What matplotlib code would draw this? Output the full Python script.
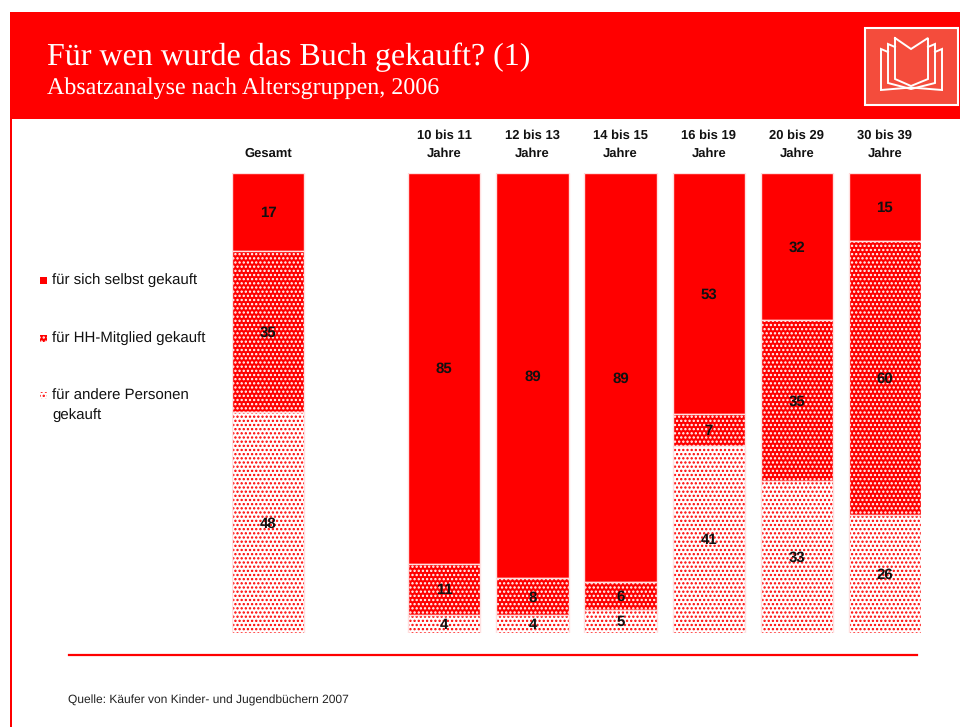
import matplotlib
matplotlib.use("Agg")
import matplotlib.pyplot as plt
from matplotlib.patches import Rectangle

plt.rcParams["font.family"] = ["Liberation Sans", "DejaVu Sans"]
plt.rcParams["hatch.linewidth"] = 1.1
plt.rcParams["text.hinting"] = "no_hinting"
plt.rcParams["text.hinting_factor"] = 1

RED = "#ff0000"
DOTS = "...."

groups = ["Gesamt", "10 bis 11\nJahre", "12 bis 13\nJahre", "14 bis 15\nJahre",
          "16 bis 19\nJahre", "20 bis 29\nJahre", "30 bis 39\nJahre"]
positions = [0, 2, 3, 4, 5, 6, 7]
selbst = [17, 85, 89, 89, 53, 32, 15]
haushalt = [35, 11, 8, 6, 7, 35, 60]
andere = [48, 4, 4, 5, 41, 33, 26]

legend_labels = ["für sich selbst gekauft", "für HH-Mitglied gekauft",
                 "für andere Personen\ngekauft"]

title = "Für wen wurde das Buch gekauft? (1)"
subtitle = "Absatzanalyse nach Altersgruppen, 2006"
source = "Quelle: Käufer von Kinder- und Jugendbüchern 2007"

fig = plt.figure(figsize=(9.6, 7.27), dpi=100, facecolor="white")

# page furniture lives on a full-size axes in pixel units
page = fig.add_axes([0, 0, 1, 1])
page.set_xlim(0, 960)
page.set_ylim(727, 0)
page.axis("off")

page.add_patch(Rectangle((10, 12), 950, 107, fc=RED, ec="none"))
page.add_patch(Rectangle((10, 119), 2, 608, fc=RED, ec="none"))
page.text(47, 57, title, family="Liberation Serif", fontsize=23, color="white", va="center")
page.text(47, 88, subtitle, family="Liberation Serif", fontsize=17.3, color="white", va="center")

# book icon
page.add_patch(Rectangle((865, 28), 93, 77, fc="#f44c3c", ec="white", lw=1.5))
front = [(895, 38), (911, 49), (928, 38), (928, 79), (911, 86), (895, 79), (895, 38)]
middle = [(895, 47), (888, 44), (888, 83), (911, 89), (935, 83), (935, 44), (928, 47)]
back = [(888, 52), (881, 49), (881, 90), (911, 87.5), (942, 90), (942, 49), (935, 52)]
for shape in (front, middle, back):
    page.plot(*zip(*shape), color="white", lw=1.4, solid_joinstyle="miter")

page.plot([69, 917], [655, 655], color=RED, lw=1.6)
page.text(68, 700, source, fontsize=8.35, color="#222222", va="center")

# legend
page.add_patch(Rectangle((40, 277), 7, 7, fc=RED, ec="none"))
page.add_patch(Rectangle((40, 335), 7, 7, fc=RED, ec="white", lw=0, hatch=DOTS))
page.add_patch(Rectangle((40, 392), 7, 7, fc="white", ec=RED, lw=0, hatch=DOTS))
page.text(52, 280.5, legend_labels[0], fontsize=10.6, color="#111111", va="center")
page.text(52, 338.5, legend_labels[1], fontsize=10.6, color="#111111", va="center")
page.text(52, 405.5, legend_labels[2], fontsize=10.6, color="#111111", va="center", linespacing=1.4)

# stacked bars, each normalised to the full column height
ax = fig.add_axes([232 / 960, 1 - 633 / 727, 689 / 960, 460 / 727])
ax.patch.set_alpha(0)
width = 0.82
styles = [
    dict(color=RED),
    dict(facecolor=RED, edgecolor="white", hatch=DOTS, linewidth=0),
    dict(facecolor="white", edgecolor=RED, hatch=DOTS, linewidth=0),
]
series = [selbst, haushalt, andere]
totals = [a + b + c for a, b, c in zip(selbst, haushalt, andere)]
bottoms = [0] * len(groups)
for values, style in zip(series, styles):
    heights = [v / t * 100 for v, t in zip(values, totals)]
    ax.bar(positions, heights, width, bottom=bottoms, **style)
    # thin pale separators between the segments
    ax.bar(positions, heights, width, bottom=bottoms, fill=False, edgecolor="#ffe0e0", linewidth=1)
    for x, b, h, v in zip(positions, bottoms, heights, values):
        ax.text(x, b + h / 2 + 0.2, str(v), ha="center", va="center", fontsize=10.8, fontweight="bold", color="#111111")
    bottoms = [b + h for b, h in zip(bottoms, heights)]

ax.set_xlim(-width / 2, 7 + width / 2)
ax.set_ylim(100, 0)
ax.xaxis.tick_top()
ax.set_xticks(positions)
ax.set_xticklabels(groups, fontsize=9.1, fontweight="bold", color="#111111", linespacing=1.55)
ax.tick_params(axis="x", length=0, pad=10)
ax.set_yticks([])
for spine in ax.spines.values():
    spine.set_visible(False)

fig.savefig("out.png", dpi=100)
